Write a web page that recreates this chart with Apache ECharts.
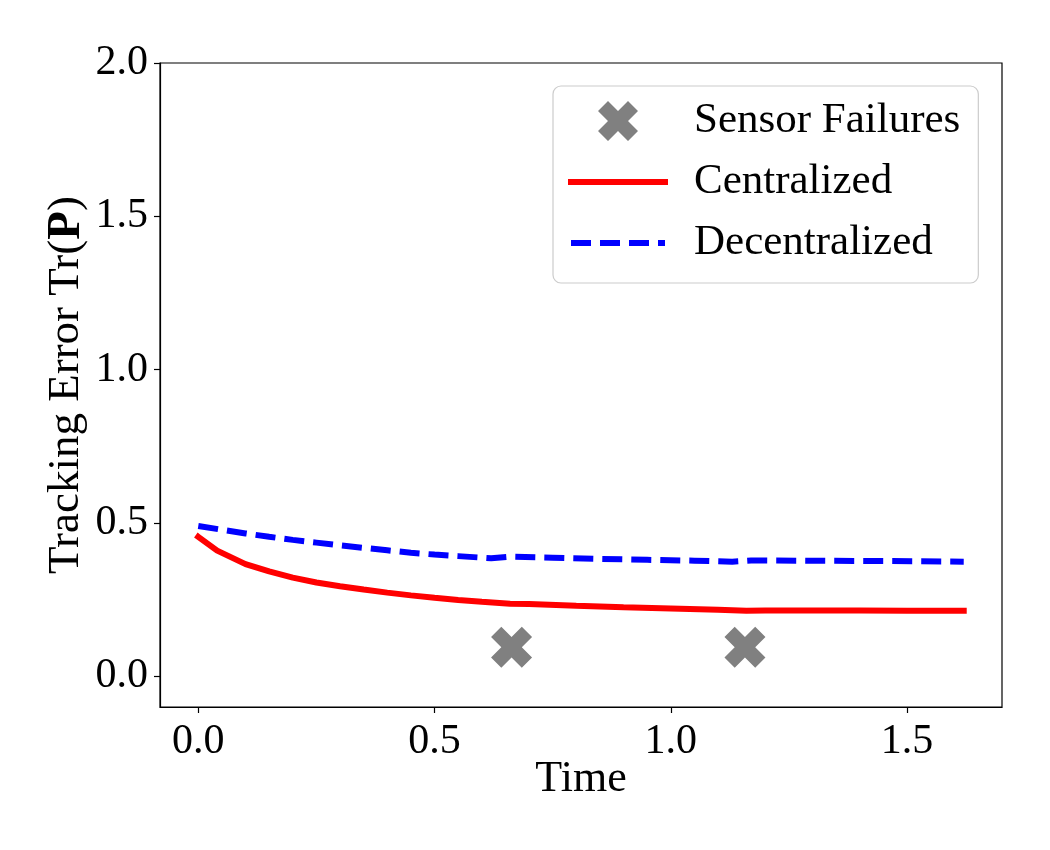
<!DOCTYPE html>
<html lang="en">
  <head>
    <meta charset="UTF-8" />
    <title>Tracking Error</title>
    <script src="https://cdn.jsdelivr.net/npm/echarts@6/dist/echarts.min.js"></script>
    <style>
      html, body { margin: 0; padding: 0; background: #fff; }
      #main { width: 1050px; height: 850px; }
    </style>
  </head>
  <body>
    <div id="main"></div>
    <script>
      // values
      var timeC = [0.00, 0.04, 0.10, 0.15, 0.20, 0.25, 0.30, 0.35, 0.40, 0.45, 0.50, 0.55, 0.60, 0.66,
                   0.70, 0.80, 0.90, 1.00, 1.10, 1.16, 1.20, 1.30, 1.40, 1.50, 1.62];
      var centralized = [0.455, 0.410, 0.366, 0.342, 0.322, 0.306, 0.294, 0.283, 0.273, 0.264, 0.256, 0.249, 0.243, 0.237,
                         0.236, 0.230, 0.225, 0.221, 0.217, 0.214, 0.215, 0.215, 0.215, 0.214, 0.214];
      var timeD = [0.00, 0.05, 0.10, 0.15, 0.20, 0.25, 0.30, 0.35, 0.40, 0.45, 0.50, 0.55, 0.62, 0.66,
                   0.75, 0.85, 0.95, 1.05, 1.13, 1.17, 1.30, 1.45, 1.62];
      var decentralized = [0.490, 0.478, 0.466, 0.455, 0.445, 0.436, 0.427, 0.419, 0.411, 0.403, 0.397, 0.392, 0.385, 0.390,
                           0.387, 0.383, 0.380, 0.377, 0.374, 0.378, 0.377, 0.376, 0.374];
      var failureTimes = [0.663, 1.157];
      var failureLevel = [0.095, 0.095];
      var xTicks = [0, 0.5, 1.0, 1.5];
      var yTicks = [0, 0.5, 1.0, 1.5, 2.0];

      var FONT = "Liberation Serif";
      var xMark = "path://M1 0L2 1L3 0L4 1L3 2L4 3L3 4L2 3L1 4L0 3L1 2L0 1Z";
      var hidden = { color: "rgba(0,0,0,0)", borderWidth: 0, opacity: 0 };

      function pairs(xs, ys) {
        return xs.map(function (x, i) { return [x, ys[i]]; });
      }

      var myChart = echarts.init(document.getElementById("main"));

      var option = {
        backgroundColor: "#fff",
        animation: false,
        textStyle: { fontFamily: FONT, color: "#000" },
        grid: {
          left: 160, right: 48, top: 63, bottom: 143,
          show: true, borderColor: "#000", borderWidth: 1.2
        },
        xAxis: {
          type: "value",
          min: -0.081,
          max: 1.701,
          name: "Time",
          nameLocation: "middle",
          nameMoveOverlap: false,
          nameGap: 50,
          nameTextStyle: { fontFamily: FONT, fontSize: 44, color: "#000" },
          axisLine: { show: true, onZero: false, lineStyle: { color: "#000", width: 1.2 } },
          axisTick: { show: true, customValues: xTicks, length: 6, lineStyle: { color: "#000", width: 1.2 } },
          axisLabel: {
            customValues: xTicks, margin: 14, fontFamily: FONT, fontSize: 42, color: "#000",
            formatter: function (v) { return v.toFixed(1); }
          },
          splitLine: { show: false }
        },
        yAxis: {
          type: "value",
          min: -0.1,
          max: 2.0,
          name: "Tracking Error Tr({b|P})",
          nameLocation: "middle",
          nameMoveOverlap: false,
          nameGap: 70,
          nameTextStyle: {
            fontFamily: FONT, fontSize: 45, color: "#000",
            rich: { b: { fontFamily: FONT, fontSize: 47, fontWeight: "bold", color: "#000" } }
          },
          axisLine: { show: true, onZero: false, lineStyle: { color: "#000", width: 1.2 } },
          axisTick: { show: true, customValues: yTicks, length: 6, lineStyle: { color: "#000", width: 1.2 } },
          axisLabel: {
            customValues: yTicks, margin: 12, fontFamily: FONT, fontSize: 42, color: "#000",
            formatter: function (v) { return v.toFixed(1); }
          },
          splitLine: { show: false }
        },
        legend: {
          orient: "vertical",
          left: 553,
          top: 86,
          padding: [11, 18, 16, 15],
          itemWidth: 94,
          itemHeight: 40,
          itemGap: 13,
          backgroundColor: "rgba(255,255,255,0.8)",
          borderColor: "#cccccc",
          borderWidth: 1.2,
          borderRadius: 8,
          textStyle: { fontFamily: FONT, fontSize: 43, color: "#000", lineHeight: 48, padding: [0, 0, 0, 24] },
          data: [
            { name: "Sensor Failures", icon: xMark, itemStyle: { color: "#808080", opacity: 1 } },
            { name: "Centralized", itemStyle: hidden, lineStyle: { color: "#ff0000", width: 6 } },
            { name: "Decentralized", itemStyle: hidden, lineStyle: { color: "#0000ff", width: 6, type: [20, 9] } }
          ]
        },
        series: [
          {
            name: "Sensor Failures",
            type: "scatter",
            symbol: xMark,
            symbolSize: 41,
            itemStyle: { color: "#808080", opacity: 1 },
            data: pairs(failureTimes, failureLevel),
            z: 3
          },
          {
            name: "Centralized",
            type: "line",
            symbol: "none",
            lineStyle: { color: "#ff0000", width: 6, cap: "square" },
            itemStyle: { color: "#ff0000" },
            data: pairs(timeC, centralized),
            z: 2
          },
          {
            name: "Decentralized",
            type: "line",
            symbol: "none",
            lineStyle: { color: "#0000ff", width: 6, type: [20, 9] },
            itemStyle: { color: "#0000ff" },
            data: pairs(timeD, decentralized),
            z: 2
          }
        ]
      };

      myChart.setOption(option);
    </script>
  </body>
</html>
